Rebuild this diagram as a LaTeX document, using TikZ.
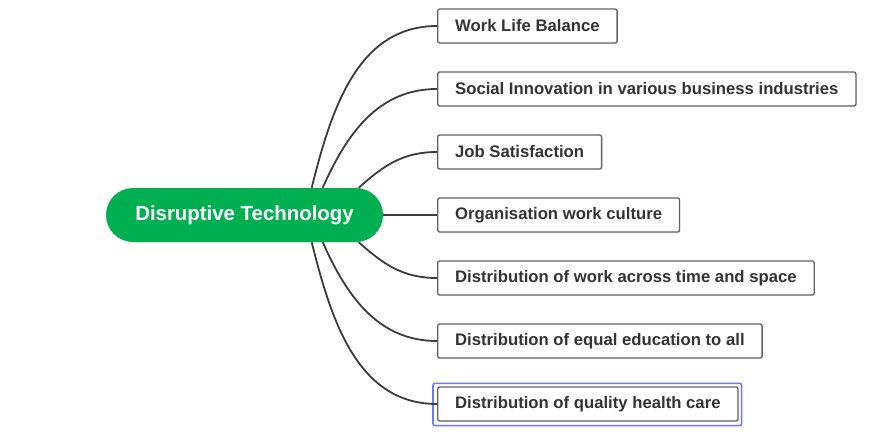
\documentclass[tikz,border=0pt]{standalone}
\usepackage{fontspec}
\setmainfont{Liberation Sans}
\usetikzlibrary{positioning, calc, shadows}
\definecolor{hubGreen}{HTML}{00B050}
\definecolor{leafText}{HTML}{333333}
\definecolor{leafEdge}{HTML}{636363}
\definecolor{linkGray}{HTML}{3C3C3C}
\definecolor{selectBlue}{HTML}{6B7BFF}
\tikzset{
    hub_pill/.style={
        rectangle, rounded corners=27pt, fill=hubGreen, draw=none,
        minimum width=277pt, minimum height=54pt, inner sep=0pt,
        text=white, font=\fontsize{20.4}{24}\selectfont\bfseries
    },
    leaf_box/.style={
        rectangle, rounded corners=2pt, draw=leafEdge, line width=1.3pt, fill=white,
        minimum height=34pt, inner xsep=17.5pt, inner ysep=0pt, anchor=west,
        text=leafText, font=\fontsize{16.7}{20}\selectfont\bfseries,
        drop shadow={opacity=0.12, shadow xshift=1pt, shadow yshift=-1pt}
    },
    branch/.style={
        draw=linkGray, line width=1.8pt
    },
    select_frame/.style={
        draw=selectBlue, line width=1.6pt, rounded corners=2pt
    }
}

\begin{document}
\begin{tikzpicture}[x=1pt, y=1pt]
    \useasboundingbox (0,0) rectangle (890,437);

    % Central topic
    \node[hub_pill] (disrupt) at (244.5, 222) {Disruptive Technology};

    % Leaf topics, one per row
    \node[leaf_box] (balance)   at (437, 411) {Work Life Balance};
    \node[leaf_box] (social)    at (437, 348) {Social Innovation in various business industries};
    \node[leaf_box] (jobsat)    at (437, 285) {Job Satisfaction};
    \node[leaf_box] (culture)   at (437, 222) {Organisation work culture};
    \node[leaf_box] (worktime)  at (437, 159) {Distribution of work across time and space};
    \node[leaf_box] (education) at (437, 96)  {Distribution of equal education to all};
    \node[leaf_box] (health)    at (437, 33)  {Distribution of quality health care};

    % Selection frame round the last leaf
    \draw[select_frame] ($(health.south west)+(-4,-4)$) rectangle ($(health.north east)+(3,3)$);

    % Branches from the central topic
    \coordinate (top_a) at ($(disrupt.north east)+(-71.5,0)$);
    \coordinate (top_b) at ($(disrupt.north east)+(-60.5,0)$);
    \coordinate (top_c) at ($(disrupt.north east)+(-24.5,0)$);
    \coordinate (bot_a) at ($(disrupt.south east)+(-71.5,0)$);
    \coordinate (bot_b) at ($(disrupt.south east)+(-60.5,0)$);
    \coordinate (bot_c) at ($(disrupt.south east)+(-24.5,0)$);

    \draw[branch] (top_a) to[out=76, in=180] (balance.west);
    \draw[branch] (top_b) to[out=66, in=180] (social.west);
    \draw[branch] (top_c) to[out=42, in=180] (jobsat.west);
    \draw[branch] (disrupt.east) -- (culture.west);
    \draw[branch] (bot_c) to[out=-42, in=180] (worktime.west);
    \draw[branch] (bot_b) to[out=-66, in=180] (education.west);
    \draw[branch] (bot_a) to[out=-76, in=180] (health.west);
\end{tikzpicture}
\end{document}
